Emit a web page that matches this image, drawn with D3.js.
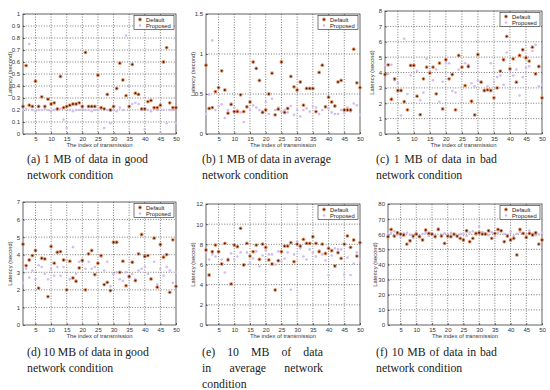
<!DOCTYPE html>
<html>
<head>
<meta charset="utf-8">
<script src="https://d3js.org/d3.v7.min.js"></script>
<style>
  body { margin: 0; background: #fff; }
  text { font-family: "Liberation Sans", Arial, sans-serif; }
  .cap { font-family: "Liberation Serif", "Times New Roman", serif; font-size: 11.8px; fill: #222; }
</style>
</head>
<body>
<div id="canvas"></div>
<script>
// index of transmission runs 1..50
var xTicks = [5, 10, 15, 20, 25, 30, 35, 40, 45, 50];

var defA = [0.23,0.57,0.24,0.23,0.44,0.23,0.31,0.23,0.29,0.25,
            0.26,0.21,0.48,0.22,0.23,0.24,0.25,0.25,0.26,0.23,
            0.68,0.23,0.23,0.23,0.49,0.22,0.21,0.33,0.2,0.23,
            0.38,0.59,0.45,0.32,0.23,0.58,0.34,0.33,0.21,0.21,
            0.27,0.28,0.22,0.22,0.24,0.6,0.72,0.26,0.22,0.22];
var propA = [0.2,0.21,0.75,0.2,0.19,0.2,0.2,0.21,0.2,0.19,
             0.2,0.2,0.21,0.12,0.05,0.2,0.19,0.2,0.2,0.21,
             0.2,0.2,0.19,0.2,0.2,0.21,0.05,0.2,0.09,0.2,
             0.19,0.22,0.2,0.82,0.4,0.25,0.26,0.25,0.2,0.04,
             0.2,0.19,0.21,0.2,0.01,0.2,0.09,0.2,0.2,0.09];
var yTicksA = [0,0.1,0.2,0.3,0.4,0.5,0.6,0.7,0.8,0.9,1];

var defB = [0.86,0.32,0.33,0.53,0.58,0.79,0.55,0.26,0.37,0.28,
            0.28,0.49,0.28,0.34,0.40,0.90,0.82,0.67,0.27,0.30,
            0.5,0.76,0.24,0.31,0.9,0.27,0.32,0.72,0.59,0.55,
            0.65,0.36,0.57,0.57,0.57,0.28,0.77,0.86,0.34,0.46,
            0.40,0.35,0.65,0.67,0.30,0.30,0.30,1.06,0.64,0.58];
var propB = [0.25,0.49,1.17,0.3,0.35,0.37,0.2,0.3,0.38,0.33,
             0.3,0.27,0.15,0.35,0.3,0.36,0.33,0.3,0.28,0.4,
             0.25,0.44,0.3,0.33,0.28,0.3,0.27,0.35,0.24,0.3,
             0.22,0.3,0.32,0.28,0.35,0.33,0.25,0.3,0.35,0.32,
             0.27,0.25,0.25,0.3,0.26,0.33,0.28,0.38,0.36,0.24];
var yTicksB = [0,0.5,1,1.5];

var defC = [3.87,4.5,2.26,3.59,2.83,2.83,2.1,1.57,4.46,4.46,
            2.46,1.26,3.59,4.35,3.96,4.35,2.61,4.61,1.63,4.83,
            3.59,3.87,1.57,5.11,4.35,3.15,4.39,2.13,1.24,5.17,
            3.37,2.83,2.87,2.83,2.35,3.0,4.09,4.83,6.35,4.24,
            4.89,3.37,5.11,5.48,4.96,4.74,5.65,3.91,4.39,2.35];
var propC = [4.5,3.9,4.5,3.5,3.3,1.2,6.2,2.6,3.8,4.5,
             4.1,2.2,2.7,4.9,4.1,3.5,4.2,2.1,3.4,4.6,
             4.6,2.8,2.7,4.2,3.9,4.6,4.5,3.3,3.1,3.5,
             3.4,2.8,3.1,4.6,3.4,3.7,3.8,3.2,5.3,4.2,
             3.8,4.2,2.5,3.7,4.3,4.4,5.4,5.8,3.1,3.2];
var yTicksC = [0,1,2,3,4,5,6,7,8];

var defD = [4.6,3.38,3.7,3.95,4.24,2.1,3.8,3.76,1.62,4.47,
            3.52,4.14,4.18,3.7,2.0,3.63,2.68,2.49,3.25,3.67,
            2.0,4.05,4.24,2.87,3.52,3.95,2.3,2.43,1.96,4.71,
            4.71,3.0,3.63,2.24,2.76,3.57,2.53,4.05,5.15,3.9,
            3.95,2.62,4.94,2.15,4.58,3.86,4.01,1.86,4.85,2.2];
var propD = [2.4,3.2,2.7,3.1,2.6,3.4,3.3,2.9,2.6,3.2,
             2.8,3.3,2.8,3.3,3.7,2.6,4.43,2.9,3.6,3.7,
             3.2,3.6,3.2,3.3,3.5,3.9,3.1,3.6,2.2,2.9,
             3.0,2.6,2.5,3.0,2.7,2.9,2.6,3.1,3.2,3.3,
             2.9,2.6,3.6,2.3,3.2,2.8,3.3,3.1,2.4,3.0];
var yTicksD = [0,1,2,3,4,5,6,7];

var defE = [7.44,4.96,7.27,7.93,7.27,6.05,8.1,6.45,4.07,7.93,
            7.77,9.59,5.95,8.1,6.84,7.27,7.93,6.51,8.03,7.7,
            6.45,6.05,3.47,6.38,7.27,7.83,7.83,8.17,6.28,8.03,
            7.83,8.5,8.1,8.1,8.76,8.1,7.27,8.03,7.1,7.6,
            7.37,5.85,7.17,6.61,8.03,8.83,7.7,8.43,6.84,8.17];
var propE = [7.2,6.5,7.0,6.8,7.3,6.5,5.2,6.6,7.1,6.5,
             6.8,7.2,6.0,7.2,6.1,6.6,7.3,5.8,6.9,7.4,
             7.0,7.0,6.0,7.3,6.3,6.6,7.2,3.5,7.0,8.3,
             7.6,6.8,6.5,7.5,7.2,6.8,7.4,7.0,6.4,4.96,
             6.9,7.6,7.5,7.5,5.0,6.7,4.96,6.1,7.2,6.5];
var yTicksE = [0,2,4,6,8,10,12];

var defF = [58.4,63.2,58.8,61,60.1,59.5,53.5,55.7,58.8,60.1,
            58.4,56.2,62.8,60.6,60.1,58.4,63.2,58.8,54,58.8,
            58.4,60.1,58.8,57.3,56.2,62.3,55.1,57.3,60.6,61,
            60.1,60.1,62.3,57.3,60.6,63.2,62.3,55.1,58.8,56.2,
            57.3,46.3,63.2,60.6,57.9,60.6,59.5,61,53.5,56.2];
var propF = [60.5,61,62,59.5,58,60.5,61,59.7,57.5,61.2,
             59,60.3,61,58.8,60.5,59.2,64,59.8,60.6,58.7,
             61,59.3,58.5,60,60.4,58.8,61.2,62,59.5,65,
             61.4,60.6,59.3,61.3,58.7,60.9,62.1,60.3,59.6,61.9,
             58.8,60.3,61.6,60.7,59.2,62.5,60.5,59.4,59.8,60.9];
var yTicksF = [0,10,20,30,40,50,60,70,80];

var captions = [
  ["(a) 1 MB of data in good", "network condition"],
  ["(b) 1 MB of data in average", "network condition"],
  ["(c) 1 MB of data in bad", "network condition"],
  ["(d) 10 MB of data in good", "network condition"],
  ["(e) 10 MB of data", "in average network", "condition"],
  ["(f) 10 MB of data in bad", "network condition"]
];

// panel boxes (pixels) and caption anchors
var panels = [
  {def: defA, prop: propA, yt: yTicksA, l: 23,  r: 176, t: 14,  b: 134, cx: 27,  cy: 163},
  {def: defB, prop: propB, yt: yTicksB, l: 206, r: 360, t: 14,  b: 134, cx: 202, cy: 163},
  {def: defC, prop: propC, yt: yTicksC, l: 385, r: 542, t: 11,  b: 134, cx: 376, cy: 163},
  {def: defD, prop: propD, yt: yTicksD, l: 23,  r: 176, t: 202, b: 325, cx: 27,  cy: 356},
  {def: defE, prop: propE, yt: yTicksE, l: 206, r: 360, t: 204, b: 325, cx: 202, cy: 356},
  {def: defF, prop: propF, yt: yTicksF, l: 388, r: 542, t: 204, b: 325, cx: 376, cy: 356}
];
var capWidth = 121;

var svg = d3.select('#canvas').append('svg')
  .attr('width', 550).attr('height', 390);

panels.forEach(function(p, k) {
  var x = d3.scaleLinear().domain([1, 50]).range([p.l, p.r]);
  var y = d3.scaleLinear().domain([0, d3.max(p.yt)]).range([p.b, p.t]);
  var g = svg.append('g');

  // dotted grid
  g.selectAll('.gx').data(xTicks.slice(0, -1)).enter().append('line')
    .attr('x1', d => x(d)).attr('x2', d => x(d))
    .attr('y1', p.t).attr('y2', p.b)
    .attr('stroke', '#222').attr('stroke-width', 0.6).attr('stroke-dasharray', '1,1.6');
  g.selectAll('.gy').data(p.yt.slice(1, -1)).enter().append('line')
    .attr('x1', p.l).attr('x2', p.r)
    .attr('y1', d => y(d)).attr('y2', d => y(d))
    .attr('stroke', '#222').attr('stroke-width', 0.6).attr('stroke-dasharray', '1,1.6');

  // axes (ticks inside, MATLAB style)
  var ax = g.append('g').attr('transform', `translate(0,${p.b})`)
    .call(d3.axisBottom(x).tickValues(xTicks).tickSize(-2).tickPadding(3));
  var ay = g.append('g').attr('transform', `translate(${p.l},0)`)
    .call(d3.axisLeft(y).tickValues(p.yt).tickSize(-2).tickPadding(3).tickFormat(d3.format('~g')));
  [ax, ay].forEach(function(a) {
    a.select('.domain').remove();
    a.selectAll('line').attr('stroke', '#222').attr('stroke-width', 0.6);
    a.selectAll('text').attr('font-size', 6).attr('fill', '#333')
      .attr('font-family', '"Liberation Sans", Arial, sans-serif');
  });
  g.append('rect').attr('x', p.l).attr('y', p.t)
    .attr('width', p.r - p.l).attr('height', p.b - p.t)
    .attr('fill', 'none').attr('stroke', '#222').attr('stroke-width', 0.7);

  // points
  g.selectAll('.prop').data(p.prop).enter().append('circle')
    .attr('cx', (d, i) => x(i + 1)).attr('cy', d => y(d))
    .attr('r', 1.3).attr('fill', '#d2bdf0');
  g.selectAll('.defh').data(p.def).enter().append('circle')
    .attr('cx', (d, i) => x(i + 1)).attr('cy', d => y(d))
    .attr('r', 1.9).attr('fill', '#d9703a').attr('opacity', 0.75);
  g.selectAll('.defc').data(p.def).enter().append('circle')
    .attr('cx', (d, i) => x(i + 1)).attr('cy', d => y(d))
    .attr('r', 0.9).attr('fill', '#3a1a0c');

  // legend
  var lw = 40, lh = 14, lx = p.r - lw - 2, ly = p.t + 1.5;
  g.append('rect').attr('x', lx).attr('y', ly).attr('width', lw).attr('height', lh)
    .attr('fill', '#fff').attr('stroke', '#222').attr('stroke-width', 0.6);
  g.append('circle').attr('cx', lx + 6).attr('cy', ly + 4).attr('r', 1.9).attr('fill', '#d9703a').attr('opacity', 0.75);
  g.append('circle').attr('cx', lx + 6).attr('cy', ly + 4).attr('r', 0.9).attr('fill', '#3a1a0c');
  g.append('circle').attr('cx', lx + 6).attr('cy', ly + 10).attr('r', 1.3).attr('fill', '#d2bdf0');
  g.append('text').attr('x', lx + 12).attr('y', ly + 6).text('Default')
    .attr('font-size', 5.8).attr('fill', '#222');
  g.append('text').attr('x', lx + 12).attr('y', ly + 12).text('Proposed')
    .attr('font-size', 5.8).attr('fill', '#222');

  // axis titles
  g.append('text').text('The index of transmission')
    .attr('text-anchor', 'middle').attr('font-size', 5.8).attr('fill', '#333')
    .attr('x', (p.l + p.r) / 2).attr('y', p.b + 13);
  g.append('text').text('Latency (second)')
    .attr('text-anchor', 'middle').attr('font-size', 5.8).attr('fill', '#333')
    .attr('transform', `translate(${p.l - 11},${(p.t + p.b) / 2}) rotate(-90)`);

  // caption: justify every line but the last by spreading the word gaps
  var lines = captions[k];
  lines.forEach(function(s, j) {
    var t = svg.append('text').attr('class', 'cap').attr('y', p.cy + j * 16);
    var words = s.split(' ');
    var spans = words.map(w => t.append('tspan').text(w));
    var widths = spans.map(sp => sp.node().getComputedTextLength());
    var gap = (j < lines.length - 1)
      ? Math.max(2.6, (capWidth - d3.sum(widths)) / (words.length - 1))
      : 3;
    var cur = p.cx;
    spans.forEach(function(sp, i) {
      sp.attr('x', cur);
      cur += widths[i] + gap;
    });
  });
});
</script>
</body>
</html>
